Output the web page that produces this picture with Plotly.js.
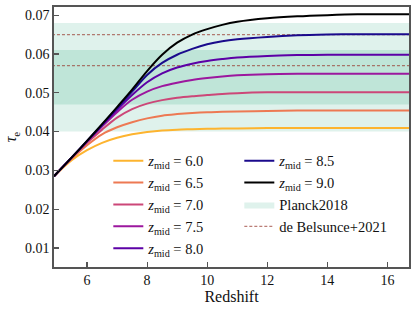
<!DOCTYPE html>
<html>
<head>
<meta charset="utf-8">
<script src="https://cdn.plot.ly/plotly-3.0.1.min.js"></script>
<style>html,body{margin:0;padding:0;background:#fff}#chart{width:416px;height:309px}</style>
</head>
<body>
<div id="chart"></div>
<script>
// Redshift sample points
const redshift = [4.9, 5.5, 6.0, 6.5, 7.0, 7.5, 8.0, 8.5, 9.0, 9.5, 10.0, 10.5, 11.0, 12.0, 13.0, 14.0, 15.0, 16.0, 16.8];
const zmidLabels = ["6.0", "6.5", "7.0", "7.5", "8.0", "8.5", "9.0"];
const tau_z60 = [0.0285,0.0327,0.0352,0.0371,0.0384,0.0393,0.0399,0.0403,0.0405,0.0406,0.0407,0.0408,0.0408,0.0409,0.0409,0.0409,0.0409,0.0409,0.0409];
const tau_z65 = [0.0285,0.0331,0.0365,0.0393,0.0411,0.0424,0.0434,0.0441,0.0445,0.0448,0.0450,0.0451,0.0452,0.0453,0.0454,0.0454,0.0454,0.0454,0.0454];
const tau_z70 = [0.0285,0.0333,0.0371,0.0405,0.0436,0.0458,0.0472,0.0481,0.0487,0.0491,0.0494,0.0497,0.0499,0.0501,0.0501,0.0501,0.0501,0.0501,0.0501];
const tau_z75 = [0.0285,0.0334,0.0374,0.0413,0.0450,0.0482,0.0503,0.0517,0.0526,0.0533,0.0538,0.0542,0.0545,0.0548,0.0549,0.0549,0.0549,0.0549,0.0549];
const tau_z80 = [0.0285,0.0334,0.0375,0.0416,0.0456,0.0494,0.0527,0.0550,0.0565,0.0575,0.0582,0.0587,0.0591,0.0595,0.0597,0.0598,0.0598,0.0598,0.0598];
const tau_z85 = [0.0285,0.0334,0.0376,0.0418,0.0461,0.0503,0.0546,0.0577,0.0598,0.0613,0.0625,0.0633,0.0638,0.0644,0.0648,0.0650,0.0651,0.0651,0.0651];
const tau_z90 = [0.0285,0.0334,0.0376,0.0419,0.0463,0.0508,0.0556,0.0598,0.0629,0.0650,0.0664,0.0675,0.0683,0.0692,0.0697,0.0700,0.0702,0.0702,0.0702];
// Planck2018 bands (2 sigma and 1 sigma) and de Belsunce+2021 bounds
const planck2sigma = [0.040, 0.068];
const planck1sigma = [0.047, 0.061];
const belsunce = [0.057, 0.065];
const bandSpan = [4.0, 18.0];

const series = [tau_z60, tau_z65, tau_z70, tau_z75, tau_z80, tau_z85, tau_z90];
const colors = ["#fdb42f", "#ed7953", "#cc4778", "#9c179e", "#5c01a6", "#1a0a8c", "#000000"];

function box(lo, hi) {
  return {x: [bandSpan[0], bandSpan[1], bandSpan[1], bandSpan[0], bandSpan[0]],
          y: [lo, lo, hi, hi, lo]};
}
const traces = [];
const b2 = box(planck2sigma[0], planck2sigma[1]);
traces.push({x: b2.x, y: b2.y, type: "scatter", mode: "lines", fill: "toself",
  fillcolor: "#dff2ec", line: {width: 0, color: "#dff2ec"}, name: "Planck2018",
  legend: "legend2", legendrank: 3, hoverinfo: "skip"});
const b1 = box(planck1sigma[0], planck1sigma[1]);
traces.push({x: b1.x, y: b1.y, type: "scatter", mode: "lines", fill: "toself",
  fillcolor: "#bfe5d8", line: {width: 0, color: "#bfe5d8"}, showlegend: false, hoverinfo: "skip"});
belsunce.forEach((v, i) => {
  traces.push({x: bandSpan, y: [v, v], type: "scatter", mode: "lines",
    line: {color: "rgba(150,55,45,0.65)", width: 1.3, dash: "3px,2px"},
    name: "de Belsunce+2021", showlegend: i === 0, legend: "legend2", legendrank: 4, hoverinfo: "skip"});
});
series.forEach((s, i) => {
  traces.push({x: redshift, y: s, type: "scatter", mode: "lines",
    line: {color: colors[i], width: 2, shape: "spline", smoothing: 0.9},
    name: "<i>z</i><sub>mid</sub> = " + zmidLabels[i],
    legend: i < 5 ? "legend" : "legend2", legendrank: i < 5 ? i + 1 : i - 4});
});

const serif = "Liberation Serif, Times New Roman, serif";
const legendCommon = {bgcolor: "rgba(0,0,0,0)", borderwidth: 0, font: {family: serif, size: 14.5, color: "#111"},
  xanchor: "left", yanchor: "top", traceorder: "normal", itemwidth: 30, tracegroupgap: 0};
const layout = {
  width: 416, height: 309,
  margin: {l: 54, r: 7, t: 7, b: 42},
  paper_bgcolor: "#fff", plot_bgcolor: "rgba(0,0,0,0)",
  font: {family: serif, color: "#111"},
  showlegend: true,
  legend: Object.assign({}, legendCommon, {x: 0.153, y: 0.47}),
  legend2: Object.assign({}, legendCommon, {x: 0.522, y: 0.47}),
  xaxis: {range: [4.9, 16.72], tickvals: [6, 8, 10, 12, 14, 16], ticks: "inside", ticklen: 5,
    tickcolor: "#555", tickwidth: 1.2, showline: true, linecolor: "#555", linewidth: 1.6, mirror: true,
    showgrid: false, zeroline: false, tickfont: {family: serif, size: 14, color: "#111"},
    title: {text: "Redshift", font: {family: serif, size: 16, color: "#111"}, standoff: 3}},
  yaxis: {range: [0.0051, 0.0721], tickvals: [0.01, 0.02, 0.03, 0.04, 0.05, 0.06, 0.07], tickformat: ".2f",
    ticks: "inside", ticklen: 5, tickcolor: "#555", tickwidth: 1.2, showline: true, linecolor: "#555",
    linewidth: 1.6, mirror: true, showgrid: false, zeroline: false,
    tickfont: {family: serif, size: 14, color: "#111"},
    title: {text: "<i>τ</i><sub>e</sub>", font: {family: serif, size: 16, color: "#111"}, standoff: 4}}
};
Plotly.newPlot("chart", traces, layout, {staticPlot: true, displayModeBar: false});
</script>
</body>
</html>
